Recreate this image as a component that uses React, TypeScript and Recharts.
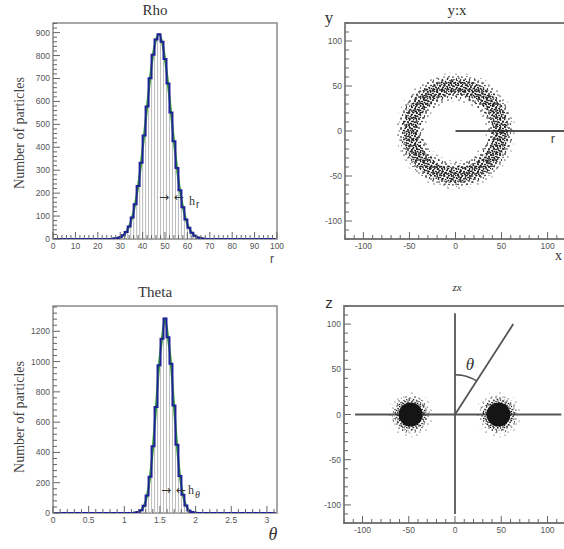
import React from 'react';
import {
  ComposedChart, ScatterChart, Bar, Line, Scatter, XAxis, YAxis,
  ReferenceArea, ReferenceLine,
} from 'recharts';

// ---------------- data ----------------
const N_BINS = 75;
const rhoRange = [0, 100];
const thetaRange = [0, Math.PI];

const rhoCounts = [
  0, 0, 0, 0, 0, 0, 0, 0, 0, 0,
  0, 0, 0, 0, 0, 0, 0, 0, 0, 0,
  2, 4, 8, 16, 31, 55, 94, 152, 231, 332,
  451, 578, 701, 804, 870, 893, 860, 785, 678, 552,
  426, 310, 213, 139, 85, 49, 27, 14, 7, 3,
  1, 0, 0, 0, 0, 0, 0, 0, 0, 0,
  0, 0, 0, 0, 0, 0, 0, 0, 0, 0,
  0, 0, 0, 0, 0,
];

const thetaCounts = [
  0, 0, 0, 0, 0, 0, 0, 0, 0, 0,
  0, 0, 0, 0, 0, 0, 0, 0, 0, 0,
  0, 0, 0, 0, 0, 0, 0, 2, 6, 18,
  48, 115, 240, 440, 700, 975, 1150, 1285, 1160, 985,
  710, 450, 245, 120, 50, 17, 6, 2, 0, 0,
  0, 0, 0, 0, 0, 0, 0, 0, 0, 0,
  0, 0, 0, 0, 0, 0, 0, 0, 0, 0,
  0, 0, 0, 0, 0,
];

const rhoYMax = 942;
const thetaYMax = 1367;
const rhoXMajor = [0, 10, 20, 30, 40, 50, 60, 70, 80, 90, 100];
const rhoYMajor = [0, 100, 200, 300, 400, 500, 600, 700, 800, 900];
const thetaXMajor = [0, 0.5, 1, 1.5, 2, 2.5, 3];
const thetaYMajor = [0, 200, 400, 600, 800, 1000, 1200];
const scatMajor = [-100, -50, 0, 50, 100];

// y:x ring (representative points along the particle ring)
const ringX = [49, 48.3, 46.0, 42.4, 37.5, 31.5, 24.5, 16.8, 8.5, 0, -8.5, -16.8, -24.5, -31.5, -37.5, -42.4, -46.0, -48.3,
  -49, -48.3, -46.0, -42.4, -37.5, -31.5, -24.5, -16.8, -8.5, 0, 8.5, 16.8, 24.5, 31.5, 37.5, 42.4, 46.0, 48.3];
const ringY = [0, 8.5, 16.8, 24.5, 31.5, 37.5, 42.4, 46.0, 48.3, 49, 48.3, 46.0, 42.4, 37.5, 31.5, 24.5, 16.8, 8.5,
  0, -8.5, -16.8, -24.5, -31.5, -37.5, -42.4, -46.0, -48.3, -49, -48.3, -46.0, -42.4, -37.5, -31.5, -24.5, -16.8, -8.5];
const rLine = [{ x: 0, y: 0 }, { x: 120, y: 0 }];

// z:x blobs and guide lines
const blobX = [-48, 47];
const blobY = [0, 0];
const zVertical = [{ x: 0, y: -110 }, { x: 0, y: 112 }];
const zHorizontal = [{ x: -108, y: 0 }, { x: 115, y: 0 }];
const zDiagonal = [{ x: 0, y: 0 }, { x: 63, y: 100 }];
const arcX = [0, 6.1, 12.1, 17.9, 23.4];
const arcY = [44, 43.6, 42.3, 40.2, 37.2];

// ---------------- helpers ----------------
const range = (a: number, b: number, s: number) => {
  const out: number[] = [];
  for (let v = a; v <= b + 1e-9; v += s) out.push(Math.round(v * 1000) / 1000);
  return out;
};
const isIn = (arr: number[], v: number) => arr.some((m) => Math.abs(m - v) < 1e-6);

const histData = (counts: number[], r: number[]) =>
  counts.map((n, k) => ({ c: r[0] + ((k + 0.5) * (r[1] - r[0])) / N_BINS, n }));

const rhoData = histData(rhoCounts, rhoRange);
const thetaData = histData(thetaCounts, thetaRange);
const ringData = ringX.map((x, i) => ({ x, y: ringY[i] }));
const blobData = blobX.map((x, i) => ({ x, y: blobY[i] }));
const arcData = arcX.map((x, i) => ({ x, y: arcY[i] }));

const AX = '#666';
const LBL = '#555';
const SANS = '"Liberation Sans", Arial, sans-serif';
const SERIF = '"Liberation Serif", "Times New Roman", serif';
const BLUE = '#20209a';
const GREEN = '#2f9a2f';

const makeXTick = (major: number[], fmt: (v: number) => string, majLen: number, minLen: number) => (props: any) => {
  const { x, y, payload } = props;
  const v = payload.value;
  const maj = isIn(major, v);
  return (
    <g>
      <line x1={x} x2={x} y1={y} y2={y - (maj ? majLen : minLen)} stroke={AX} strokeWidth={1} />
      {maj && (
        <text x={x} y={y + 10} textAnchor="middle" fontSize={8.5} fill={LBL} fontFamily={SANS}>
          {fmt(v)}
        </text>
      )}
    </g>
  );
};
const makeYTick = (major: number[], fmt: (v: number) => string, majLen: number, minLen: number) => (props: any) => {
  const { x, y, payload } = props;
  const v = payload.value;
  const maj = isIn(major, v);
  return (
    <g>
      <line x1={x} x2={x + (maj ? majLen : minLen)} y1={y} y2={y} stroke={AX} strokeWidth={1} />
      {maj && (
        <text x={x - 3} y={y + 3} textAnchor="end" fontSize={8.5} fill={LBL} fontFamily={SANS}>
          {fmt(v)}
        </text>
      )}
    </g>
  );
};

const fmtInt = (v: number) => String(Math.round(v));
const fmtNum = (v: number) => String(v);

const RingFuzz = (p: any) => <circle cx={p.cx} cy={p.cy} r={15} fill="url(#stipC)" />;
const RingOuter = (p: any) => <circle cx={p.cx} cy={p.cy} r={12} fill="url(#stipA)" />;
const RingInner = (p: any) => <circle cx={p.cx} cy={p.cy} r={8} fill="url(#stipB)" />;
const Blob = (p: any) => (
  <g>
    <circle cx={p.cx} cy={p.cy} r={23} fill="url(#stipC)" />
    <circle cx={p.cx} cy={p.cy} r={19} fill="url(#stipA)" />
    <circle cx={p.cx} cy={p.cy} r={16} fill="url(#stipB)" />
    <circle cx={p.cx} cy={p.cy} r={12} fill="#151515" />
  </g>
);
const NoShape = () => <g />;

// ---------------- charts ----------------
function Hist(props: {
  data: { c: number; n: number }[]; range: number[]; yMax: number;
  margin: any; xTicks: number[]; xMajor: number[]; yTicks: number[]; yMajor: number[];
  xFmt: (v: number) => string;
}) {
  const { data, range: r, yMax, margin, xTicks, xMajor, yTicks, yMajor, xFmt } = props;
  return (
    <ComposedChart width={564} height={549} data={data} margin={margin} barCategoryGap={0} barGap={0}>
      <XAxis xAxisId="num" dataKey="c" type="number" domain={r} ticks={xTicks} interval={0} allowDataOverflow
        tick={makeXTick(xMajor, xFmt, 7, 4)} tickLine={false} axisLine={false} tickSize={0} tickMargin={0} height={1} />
      <XAxis xAxisId="bin" dataKey="c" type="category" hide height={0} />
      <YAxis type="number" domain={[0, yMax]} ticks={yTicks} interval={0} allowDataOverflow
        tick={makeYTick(yMajor, fmtInt, 7, 4)} tickLine={false} axisLine={false} tickSize={0} tickMargin={0} width={1} />
      <Bar xAxisId="bin" dataKey="n" fill="none" stroke="#b8b8b8" strokeWidth={0.7} isAnimationActive={false} />
      <Line xAxisId="bin" type="monotone" dataKey="n" stroke={GREEN} strokeWidth={2.2} dot={false} isAnimationActive={false} />
      <Line xAxisId="bin" type="step" dataKey="n" stroke={BLUE} strokeWidth={2} dot={false} isAnimationActive={false} />
      <ReferenceArea xAxisId="num" x1={r[0]} x2={r[1]} y1={0} y2={yMax} fill="none" stroke="#8a8a8a" strokeWidth={1.5} ifOverflow="visible" />
    </ComposedChart>
  );
}

function Scat(props: { margin: any; children: React.ReactNode }) {
  const ticks = range(-120, 120, 10);
  return (
    <ScatterChart width={566} height={549} margin={props.margin}>
      <XAxis type="number" dataKey="x" domain={[-120, 120]} ticks={ticks} interval={0} allowDataOverflow
        tick={makeXTick(scatMajor, fmtInt, 7, 4)} tickLine={false} axisLine={false} tickSize={0} tickMargin={0} height={1} />
      <YAxis type="number" dataKey="y" domain={[-120, 120]} ticks={ticks} interval={0} allowDataOverflow
        tick={makeYTick(scatMajor, fmtInt, 7, 4)} tickLine={false} axisLine={false} tickSize={0} tickMargin={0} width={1} />
      <ReferenceArea x1={-120} x2={120} y1={-120} y2={120} fill="none" stroke="#7a7a7a" strokeWidth={1.8} ifOverflow="visible" />
      {props.children}
    </ScatterChart>
  );
}

export default function App() {
  const abs: React.CSSProperties = { position: 'absolute', left: 0, top: 0 };
  return (
    <div style={{ position: 'absolute', left: 0, top: 0, width: 564, height: 549, overflow: 'hidden', background: '#fff' }}>
      <svg width={0} height={0} style={{ position: 'absolute' }}>
        <defs>
          <pattern id="stipC" patternUnits="userSpaceOnUse" width={11} height={11}>
            {[[2, 3], [8, 1], [5, 8], [10, 6]].map(([x, y], i) => (
              <circle key={i} cx={x} cy={y} r={0.6} fill="#333" />
            ))}
          </pattern>
          <pattern id="stipA" patternUnits="userSpaceOnUse" width={9} height={9}>
            {[[1, 1], [5, 2], [8, 4.5], [3, 5], [6.5, 7], [1.5, 8]].map(([x, y], i) => (
              <circle key={i} cx={x} cy={y} r={0.7} fill="#222" />
            ))}
          </pattern>
          <pattern id="stipB" patternUnits="userSpaceOnUse" width={7} height={7}>
            {[[0.5, 0.5], [3.5, 1], [6, 2.5], [2, 3.5], [4.5, 4.5], [0.5, 5.5], [3, 6.3], [6, 6]].map(([x, y], i) => (
              <circle key={i} cx={x} cy={y} r={0.8} fill="#1a1a1a" />
            ))}
          </pattern>
        </defs>
      </svg>

      <div style={abs}>
        <Hist data={rhoData} range={rhoRange} yMax={rhoYMax}
          margin={{ top: 23, left: 52, right: 287, bottom: 309 }}
          xTicks={range(0, 100, 2)} xMajor={rhoXMajor} xFmt={fmtInt}
          yTicks={range(0, 940, 20)} yMajor={rhoYMajor} />
      </div>
      <div style={abs}>
        <Hist data={thetaData} range={thetaRange} yMax={thetaYMax}
          margin={{ top: 306, left: 52, right: 287, bottom: 35 }}
          xTicks={range(0, 3.1, 0.1)} xMajor={thetaXMajor} xFmt={fmtNum}
          yTicks={range(0, 1360, 40)} yMajor={thetaYMajor} />
      </div>
      <div style={abs}>
        <Scat margin={{ top: 23, left: 344, right: 0, bottom: 309 }}>
          <Scatter data={ringData} shape={RingFuzz} isAnimationActive={false} />
          <Scatter data={ringData} shape={RingOuter} isAnimationActive={false} />
          <Scatter data={ringData} shape={RingInner} isAnimationActive={false} />
          <ReferenceLine segment={rLine} stroke="#555" strokeWidth={2} />
        </Scat>
      </div>
      <div style={abs}>
        <Scat margin={{ top: 306, left: 343, right: 0, bottom: 25 }}>
          <ReferenceLine segment={zVertical} stroke="#555" strokeWidth={1.8} />
          <ReferenceLine segment={zHorizontal} stroke="#555" strokeWidth={1.8} />
          <ReferenceLine segment={zDiagonal} stroke="#555" strokeWidth={1.8} />
          <Scatter data={arcData} shape={NoShape} line={{ stroke: '#555', strokeWidth: 1.6 }} isAnimationActive={false} />
          <Scatter data={blobData} shape={Blob} isAnimationActive={false} />
        </Scat>
      </div>

      <svg width={564} height={549} style={{ ...abs, pointerEvents: 'none' }}>
        {/* Rho */}
        <text x={155} y={15} textAnchor="middle" fontFamily={SERIF} fontSize={15} fill="#333">Rho</text>
        <text transform="translate(24,133) rotate(-90)" textAnchor="middle" fontFamily={SERIF} fontSize={14} fill="#444">Number of particles</text>
        <text x={272} y={263} textAnchor="middle" fontFamily={SANS} fontSize={12} fill="#444">r</text>
        <text x={164} y={201} textAnchor="middle" fontFamily="DejaVu Sans" fontSize={12} fill="#333">→</text>
        <text x={179} y={201} textAnchor="middle" fontFamily="DejaVu Sans" fontSize={12} fill="#333">←</text>
        <text x={189} y={205} fontFamily={SERIF} fontSize={12} fill="#333">h</text>
        <text x={196} y={208} fontFamily={SANS} fontSize={10} fill="#333">r</text>

        {/* Theta */}
        <text x={155} y={297} textAnchor="middle" fontFamily={SERIF} fontSize={15} fill="#333">Theta</text>
        <text transform="translate(24,417) rotate(-90)" textAnchor="middle" fontFamily={SERIF} fontSize={14} fill="#444">Number of particles</text>
        <text x={273} y={540} textAnchor="middle" fontFamily={SERIF} fontStyle="italic" fontSize={18} fill="#333">θ</text>
        <text x={166} y={494} textAnchor="middle" fontFamily="DejaVu Sans" fontSize={12} fill="#333">→</text>
        <text x={181} y={494} textAnchor="middle" fontFamily="DejaVu Sans" fontSize={12} fill="#333">←</text>
        <text x={188} y={494} fontFamily={SERIF} fontSize={12} fill="#333">h</text>
        <text x={195} y={498} fontFamily={SERIF} fontStyle="italic" fontSize={10} fill="#333">θ</text>

        {/* y:x */}
        <text x={457} y={15} textAnchor="middle" fontFamily={SERIF} fontSize={15} fill="#333">y:x</text>
        <text x={329} y={23} textAnchor="middle" fontFamily={SERIF} fontSize={17} fill="#333">y</text>
        <text x={553} y={143} textAnchor="middle" fontFamily={SANS} fontSize={13} fill="#444">r</text>
        <text x={555} y={260} fontFamily={SERIF} fontSize={14} fill="#333">x</text>

        {/* zx */}
        <text x={457} y={291} textAnchor="middle" fontFamily={SERIF} fontStyle="italic" fontSize={11} fill="#333">zx</text>
        <text x={329} y={308} textAnchor="middle" fontFamily={SANS} fontSize={15} fill="#333">z</text>
        <text x={470} y={370} textAnchor="middle" fontFamily={SERIF} fontStyle="italic" fontSize={17} fill="#333">θ</text>
      </svg>
    </div>
  );
}
